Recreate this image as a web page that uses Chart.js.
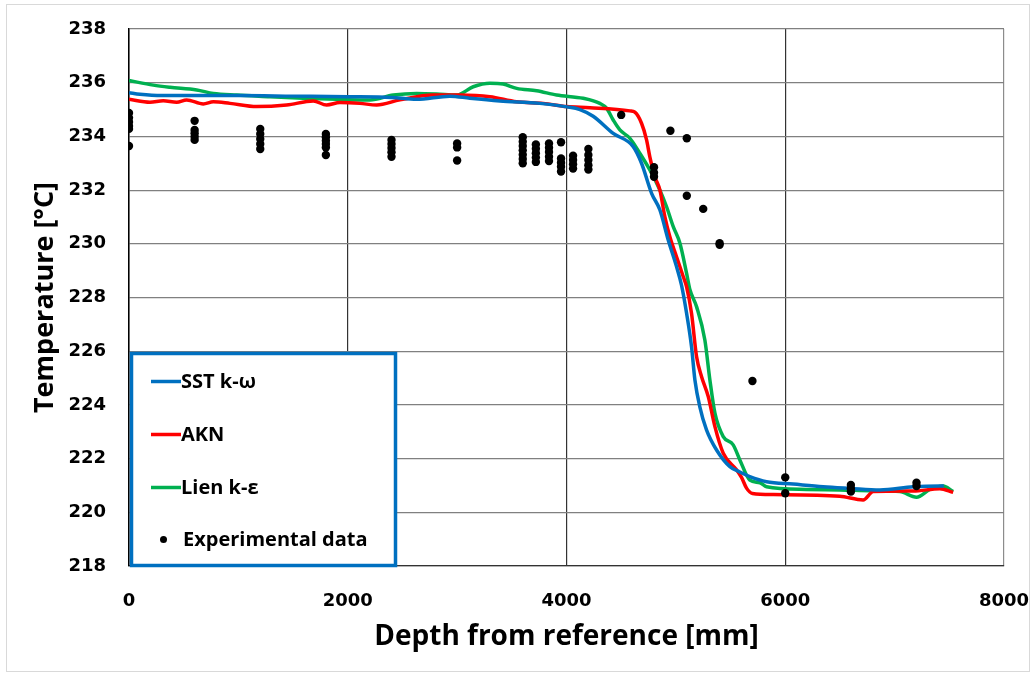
<!DOCTYPE html>
<html><head><meta charset="utf-8">
<script src="https://cdn.jsdelivr.net/npm/chart.js@4/dist/chart.umd.min.js"></script>
<style>
html,body{margin:0;padding:0;background:#fff;}
#wrap{position:absolute;left:0;top:0;width:1035px;height:677px;}
#frame{position:absolute;left:6px;top:4px;width:1024px;height:668px;border:1px solid #d9d9d9;box-sizing:border-box;pointer-events:none}
</style>
</head><body>
<div id="wrap"><canvas id="c" width="1035" height="677"></canvas><div id="frame"></div></div>
<script>
// ---- data ----
const xTicks = [0, 2000, 4000, 6000, 8000];
const yTicks = [218, 220, 222, 224, 226, 228, 230, 232, 234, 236, 238];

const sstX = [0,100,300,600,1000,1500,2000,2400,2630,2934,3117,3391,3757,4004,4123,4244,4427,4610,4686,4778,4854,4930,5006,5052,5098,5143,5174,5219,5280,5372,5494,5585,5676,5829,6072,6347,6591,6865,7169,7413,7450];
const sstT = [235.63,235.57,235.52,235.52,235.52,235.5,235.48,235.45,235.38,235.5,235.42,235.32,235.23,235.1,235.0,234.75,234.11,233.62,233.0,231.88,231.26,230.14,229.15,228.45,227.41,226.17,224.93,223.93,223.07,222.32,221.7,221.5,221.33,221.14,221.05,220.95,220.89,220.83,220.95,220.98,220.98];

const aknX = [0,192,313,436,527,679,771,923,1167,1441,1685,1807,1929,2111,2264,2477,2782,3026,3300,3544,3787,4001,4214,4580,4625,4686,4732,4762,4808,4854,4899,4945,5006,5067,5098,5143,5189,5235,5296,5357,5433,5555,5600,5646,5700,5890,6499,6712,6804,7169,7413,7535];
const aknT = [235.38,235.27,235.33,235.27,235.36,235.21,235.29,235.23,235.11,235.17,235.32,235.17,235.26,235.23,235.17,235.36,235.54,235.54,235.48,235.29,235.23,235.11,235.07,234.95,234.9,234.49,233.87,233.24,232.5,232.0,231.01,230.26,229.52,228.78,228.4,227.41,225.8,225.05,224.31,223.19,222.2,221.58,221.3,220.9,220.7,220.66,220.6,220.46,220.77,220.79,220.88,220.74];

const lienX = [0,222,375,619,771,985,1289,1593,1898,2111,2203,2416,2630,2812,2995,3147,3300,3421,3544,3727,3909,4153,4305,4366,4427,4488,4580,4671,4762,4854,4915,4976,5037,5098,5128,5189,5265,5311,5357,5433,5524,5585,5676,5768,5829,6194,6499,6804,7048,7200,7322,7444,7535];
const lienT = [236.08,235.91,235.83,235.73,235.6,235.54,235.48,235.42,235.38,235.36,235.36,235.54,235.6,235.58,235.54,235.85,235.98,235.95,235.79,235.7,235.54,235.42,235.23,235.05,234.61,234.24,233.93,233.37,232.75,232.0,231.38,230.64,230.02,228.9,228.3,227.66,226.42,224.93,223.69,222.82,222.51,221.95,221.2,221.1,220.95,220.85,220.83,220.8,220.77,220.56,220.85,220.98,220.77];

const expX = [0,0,0,0,0,0, 600,600,600,600,600, 1200,1200,1200,1200,1200, 1800,1800,1800,1800,1800,1800, 2400,2400,2400,2400,2400, 3000,3000,3000, 3600,3600,3600,3600,3600,3600,3600, 3720,3720,3720,3720,3720, 3840,3840,3840,3840,3840, 3950,3950,3950,3950,3950, 4060,4060,4060,4060, 4200,4200,4200,4200,4200, 4500, 4800,4800,4800, 4950, 5100,5100, 5250, 5400,5400, 5700, 6000,6000, 6600,6600,6600, 7200,7200];
const expT = [234.87,234.69,234.54,234.39,234.28,233.64, 234.58,234.24,234.12,233.99,233.87, 234.28,234.09,233.90,233.72,233.53, 234.09,233.97,233.84,233.72,233.59,233.31, 233.87,233.72,233.57,233.41,233.24, 233.74,233.59,233.10, 233.97,233.80,233.64,233.48,233.32,233.16,233.00, 233.70,233.54,233.37,233.21,233.05, 233.74,233.58,233.42,233.24,233.08, 233.78,233.18,233.02,232.87,232.69, 233.28,233.12,232.96,232.80, 233.53,233.31,233.12,232.93,232.77, 234.80, 232.85,232.65,232.50, 234.21, 233.93,231.79, 231.30, 230.02,229.96, 224.89, 221.30,220.71, 221.02,220.89,220.77, 221.10,220.98];

const seriesNames = ['SST k-\u03C9', 'AKN', 'Lien k-\u03B5', 'Experimental data'];
const seriesColors = ['#0070C0', '#FF0000', '#00B050', '#000000'];

const pts = (xs, ys) => xs.map((x, i) => ({x: x, y: ys[i]}));

const lineDs = (label, color, xs, ys) => ({
  type: 'line', label, data: pts(xs, ys), borderColor: color, backgroundColor: color,
  borderWidth: 3.5, pointRadius: 0, cubicInterpolationMode: 'monotone', fill: false, order: 2
});

const legendPlugin = {
  id: 'boxLegend',
  afterDraw(chart) {
    const ctx = chart.ctx;
    ctx.save();
    const bx = 131.5, by = 353.5, bw = 264, bh = 212;
    ctx.fillStyle = '#fff';
    ctx.fillRect(bx, by, bw, bh);
    ctx.strokeStyle = '#0070C0';
    ctx.lineWidth = 3.5;
    ctx.strokeRect(bx, by, bw, bh);
    const rowsY = [381.5, 434.5, 487.5, 539.5];
    ctx.font = 'bold 20px "Open Sans"';
    ctx.textBaseline = 'middle';
    ctx.textAlign = 'left';
    chart.data.datasets.forEach((ds, i) => {
      const y = rowsY[i];
      if (i < 3) {
        ctx.strokeStyle = ds.borderColor;
        ctx.lineWidth = 3.5;
        ctx.beginPath(); ctx.moveTo(151, y); ctx.lineTo(181, y); ctx.stroke();
      } else {
        ctx.fillStyle = '#000';
        ctx.beginPath(); ctx.arc(163.5, y, 3.5, 0, Math.PI * 2); ctx.fill();
      }
      ctx.fillStyle = '#000';
      ctx.fillText(ds.label, i < 3 ? 181 : 183, y + 1);
    });
    ctx.restore();
  }
};

Chart.defaults.font.family = '"DejaVu Sans"';

new Chart(document.getElementById('c'), {
  type: 'scatter',
  data: {
    datasets: [
      lineDs(seriesNames[0], seriesColors[0], sstX, sstT),
      lineDs(seriesNames[1], seriesColors[1], aknX, aknT),
      lineDs(seriesNames[2], seriesColors[2], lienX, lienT),
      { type: 'scatter', label: seriesNames[3], data: pts(expX, expT), backgroundColor: '#000', borderColor: '#000',
        pointRadius: 4.2, pointBorderWidth: 0, order: 1 }
    ]
  },
  options: {
    responsive: false,
    animation: false,
    devicePixelRatio: 1,
    layout: { padding: { left: 0, top: 29, right: 31, bottom: 0 } },
    plugins: { legend: { display: false }, tooltip: { enabled: false } },
    scales: {
      x: {
        type: 'linear', min: 0, max: 8000,
        afterBuildTicks: s => { s.ticks = xTicks.map(v => ({value: v})); },
        afterFit: s => { s.height = 111; s.paddingLeft = 0; s.paddingRight = 0; },
        ticks: { padding: 25, color: '#000', callback: v => String(v),
          font: { size: 18, weight: 'bold', family: '"DejaVu Sans"' } },
        grid: { drawTicks: false, lineWidth: 1.2,
          color: c => (c.tick && c.tick.value === 8000) ? '#8c8c8c' : '#333333' },
        border: { color: '#333333', width: 1.2 },
        title: { display: true, text: 'Depth from reference [mm]', color: '#000',
          font: { size: 28, weight: 'bold', family: '"Open Sans"' }, padding: { top: 23, bottom: 23 } }
      },
      y: {
        type: 'linear', min: 218, max: 238,
        afterBuildTicks: s => { s.ticks = yTicks.map(v => ({value: v})); },
        afterFit: s => { s.width = 129; s.paddingTop = 0; s.paddingBottom = 0; },
        ticks: { padding: 23, color: '#000', callback: v => String(v),
          font: { size: 18, weight: 'bold', family: '"DejaVu Sans"' } },
        grid: { drawTicks: false, lineWidth: 1.2, color: '#808080' },
        border: { color: '#000', width: 1.5 },
        title: { display: true, text: 'Temperature [\u00B0C]', color: '#000',
          font: { size: 27, weight: 'bold', family: '"Open Sans"' }, padding: { top: 29, bottom: 29 } }
      }
    }
  },
  plugins: [legendPlugin]
});
</script>
</body></html>
